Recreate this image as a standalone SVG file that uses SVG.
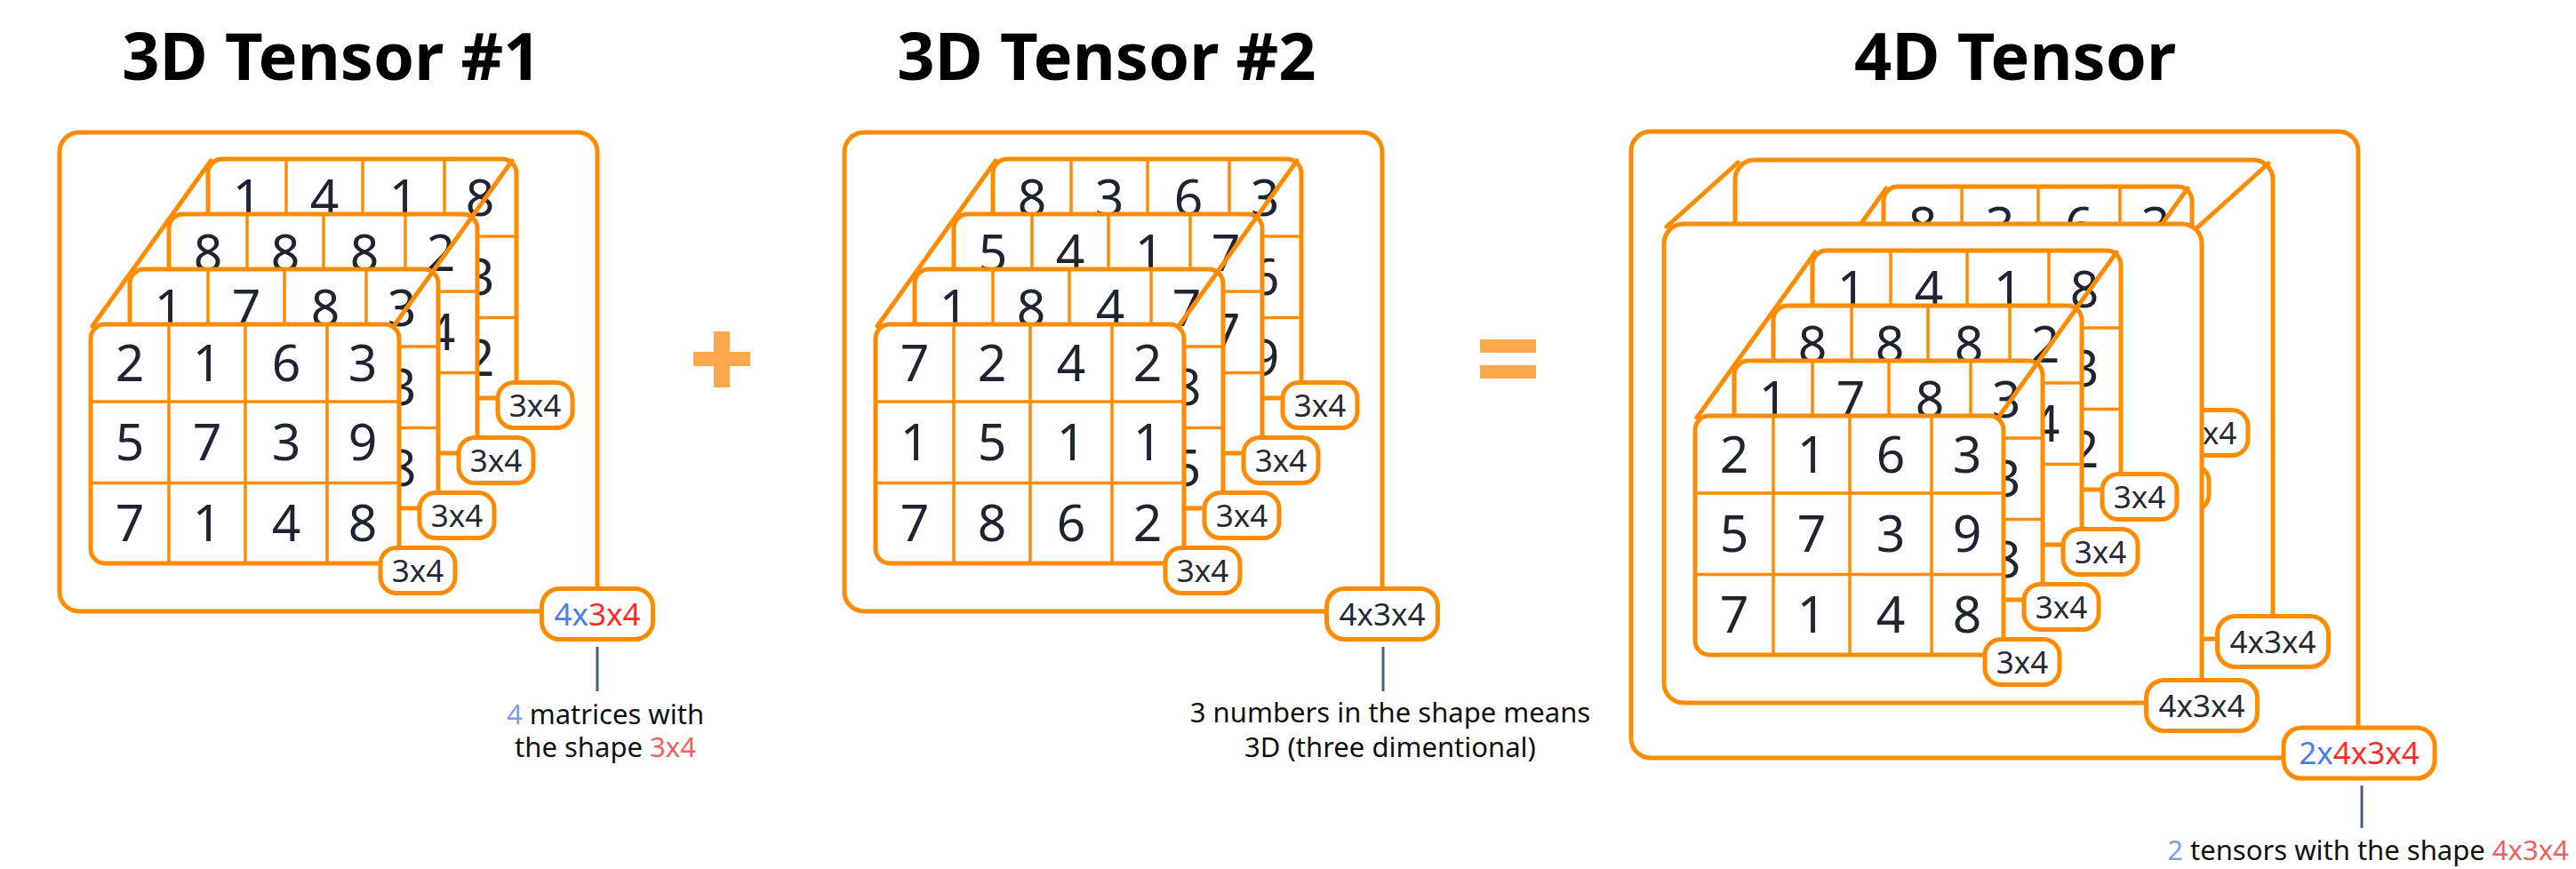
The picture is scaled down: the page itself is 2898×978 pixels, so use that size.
<svg xmlns="http://www.w3.org/2000/svg" xmlns:xlink="http://www.w3.org/1999/xlink" width="2898" height="978" viewBox="0 0 2898 978">
<style>
.box{fill:#fff;stroke:#FF8C00;stroke-width:5}
.lay{fill:#fff;stroke:#FF8C00;stroke-width:5}
.grid{fill:none;stroke:#FF8C00;stroke-width:3.5}
.dg{fill:none;stroke:#FF8C00;stroke-width:5;stroke-linecap:round}
.lbox{fill:#fff;stroke:#FF8C00;stroke-width:5}
.d{font-family:"Noto Sans","Open Sans",sans-serif;font-size:57px;fill:#1f2430;text-anchor:middle}
.lt{font-family:"Noto Sans","Open Sans",sans-serif;font-size:35px;fill:#262a35;text-anchor:middle}
.title{font-family:"Noto Sans","Open Sans",sans-serif;font-size:74px;font-weight:bold;fill:#000;text-anchor:middle}
.ann{font-family:"Noto Sans","Open Sans",sans-serif;font-size:31px;fill:#111;text-anchor:middle}
.pin{stroke:#4a5f85;stroke-width:3}
.op{fill:#FBA94C}
.blue{fill:#4a7be8}
.red{fill:#ff2b2b}
.lblue{fill:#7b9fe8}
.lred{fill:#f25f5f}
</style>
<defs>
<g id="frame">
<rect class="lay" x="0" y="0" width="347" height="269" rx="16"/>
<path class="grid" d="M88 0V269M174 0V269M266 0V269M0 87H347M0 178.5H347"/>
</g>
<g id="lab">
<rect class="lbox" x="326" y="251.5" width="84" height="51" rx="18"/>
</g>
</defs>

<!-- Titles -->
<text class="title" x="373" y="90">3D Tensor #1</text>
<text class="title" x="1245" y="90">3D Tensor #2</text>
<text class="title" x="2267" y="90">4D Tensor</text>

<!-- Tensor 1 -->
<g id="tensor1">
<rect class="box" x="67" y="149" width="605" height="539" rx="22"/>
<g id="t1layers">
<g id="t1-m4" transform="translate(234,179)">
<use href="#frame"/>
<text class="d" x="44" y="64">1</text><text class="d" x="131" y="64">4</text><text class="d" x="220" y="64">1</text><text class="d" x="306" y="64">8</text>
<text class="d" x="306" y="153">3</text><text class="d" x="306" y="244">2</text>
<use href="#lab"/><text class="lt" x="368" y="289.5">3x4</text>
</g>
<g id="t1-m3" transform="translate(190,241)">
<use href="#frame"/>
<text class="d" x="44" y="64">8</text><text class="d" x="131" y="64">8</text><text class="d" x="220" y="64">8</text><text class="d" x="306" y="64">2</text>
<text class="d" x="306" y="153">4</text>
<use href="#lab"/><text class="lt" x="368" y="289.5">3x4</text>
</g>
<g id="t1-m2" transform="translate(146,303)">
<use href="#frame"/>
<text class="d" x="44" y="64">1</text><text class="d" x="131" y="64">7</text><text class="d" x="220" y="64">8</text><text class="d" x="306" y="64">3</text>
<text class="d" x="306" y="153">3</text><text class="d" x="306" y="244">8</text>
<use href="#lab"/><text class="lt" x="368" y="289.5">3x4</text>
</g>
<g id="t1-m1" transform="translate(102,365)">
<use href="#frame"/>
<text class="d" x="44" y="64">2</text><text class="d" x="131" y="64">1</text><text class="d" x="220" y="64">6</text><text class="d" x="306" y="64">3</text>
<text class="d" x="44" y="153">5</text><text class="d" x="131" y="153">7</text><text class="d" x="220" y="153">3</text><text class="d" x="306" y="153">9</text>
<text class="d" x="44" y="244">7</text><text class="d" x="131" y="244">1</text><text class="d" x="220" y="244">4</text><text class="d" x="306" y="244">8</text>
<use href="#lab"/><text class="lt" x="368" y="289.5">3x4</text>
</g>
<path class="dg" d="M104 367L237 181M443 367L576 181"/>
</g>
<g id="t1-shape">
<rect class="lbox" x="609.5" y="662.5" width="125" height="57" rx="20"/>
<text class="lt" x="672" y="703.5"><tspan class="blue">4x</tspan><tspan class="red">3x4</tspan></text>
</g>
</g>

<!-- Plus -->
<g id="plus">
<rect class="op" x="780" y="396" width="64" height="16"/>
<rect class="op" x="803" y="373" width="18" height="63"/>
</g>

<!-- Tensor 2 -->
<g id="tensor2">
<rect class="box" x="950" y="149" width="605" height="539" rx="22"/>
<g id="t2layers">
<g id="t2-m4" transform="translate(1117,179)">
<use href="#frame"/>
<text class="d" x="44" y="64">8</text><text class="d" x="131" y="64">3</text><text class="d" x="220" y="64">6</text><text class="d" x="306" y="64">3</text>
<text class="d" x="306" y="153">6</text><text class="d" x="306" y="244">9</text>
<use href="#lab"/><text class="lt" x="368" y="289.5">3x4</text>
</g>
<g id="t2-m3" transform="translate(1073,241)">
<use href="#frame"/>
<text class="d" x="44" y="64">5</text><text class="d" x="131" y="64">4</text><text class="d" x="220" y="64">1</text><text class="d" x="306" y="64">7</text>
<text class="d" x="306" y="153">7</text>
<use href="#lab"/><text class="lt" x="368" y="289.5">3x4</text>
</g>
<g id="t2-m2" transform="translate(1029,303)">
<use href="#frame"/>
<text class="d" x="44" y="64">1</text><text class="d" x="131" y="64">8</text><text class="d" x="220" y="64">4</text><text class="d" x="306" y="64">7</text>
<text class="d" x="306" y="153">8</text><text class="d" x="306" y="244">5</text>
<use href="#lab"/><text class="lt" x="368" y="289.5">3x4</text>
</g>
<g id="t2-m1" transform="translate(985,365)">
<use href="#frame"/>
<text class="d" x="44" y="64">7</text><text class="d" x="131" y="64">2</text><text class="d" x="220" y="64">4</text><text class="d" x="306" y="64">2</text>
<text class="d" x="44" y="153">1</text><text class="d" x="131" y="153">5</text><text class="d" x="220" y="153">1</text><text class="d" x="306" y="153">1</text>
<text class="d" x="44" y="244">7</text><text class="d" x="131" y="244">8</text><text class="d" x="220" y="244">6</text><text class="d" x="306" y="244">2</text>
<use href="#lab"/><text class="lt" x="368" y="289.5">3x4</text>
</g>
<path class="dg" d="M987 367L1120 181M1326 367L1459 181"/>
</g>
<g id="t2-shape">
<rect class="lbox" x="1492.5" y="662.5" width="125" height="57" rx="20"/>
<text class="lt" x="1555" y="703.5">4x3x4</text>
</g>
</g>

<!-- Equals -->
<g id="equals">
<rect class="op" x="1665" y="382" width="63" height="15"/>
<rect class="op" x="1665" y="411" width="63" height="15"/>
</g>

<!-- 4D tensor -->
<g id="tensor4d">
<rect class="box" x="1835" y="148" width="818" height="705" rx="22"/>
<g id="t4-back">
<rect class="box" x="1952" y="180" width="605" height="539" rx="22"/>
<use href="#t2layers" transform="translate(1002,31)"/>
<rect class="lbox" x="2494.5" y="693.5" width="125" height="57" rx="20"/>
<text class="lt" x="2557" y="734.5">4x3x4</text>
</g>
<path class="dg" d="M1875 255L1955 183M2472 256L2552 184"/>
<g id="t4-front">
<rect class="box" x="1872" y="252" width="605" height="539" rx="22"/>
<use href="#t1layers" transform="translate(1805,103)"/>
<rect class="lbox" x="2414.5" y="765.5" width="125" height="57" rx="20"/>
<text class="lt" x="2477" y="806.5">4x3x4</text>
</g>
<g id="t4-shape">
<rect class="lbox" x="2569" y="819" width="170" height="57" rx="20"/>
<text class="lt" x="2654" y="860"><tspan class="blue">2x</tspan><tspan class="red">4x3x4</tspan></text>
</g>
</g>

<!-- Annotations -->
<g id="connectors">
<line class="pin" x1="672" y1="728" x2="672" y2="778"/>
<line class="pin" x1="1556" y1="728" x2="1556" y2="778"/>
<line class="pin" x1="2657" y1="884" x2="2657" y2="932"/>
</g>
<g id="note1">
<text class="ann" x="681" y="815"><tspan class="lblue">4</tspan> matrices with</text>
<text class="ann" x="681" y="852">the shape <tspan class="lred">3x4</tspan></text>
</g>
<g id="note2">
<text class="ann" x="1564" y="813">3 numbers in the shape means</text>
<text class="ann" x="1564" y="852">3D (three dimentional)</text>
</g>
<g id="note3">
<text class="ann" x="2664" y="968"><tspan class="lblue">2</tspan> tensors with the shape <tspan class="lred">4x3x4</tspan></text>
</g>
</svg>
